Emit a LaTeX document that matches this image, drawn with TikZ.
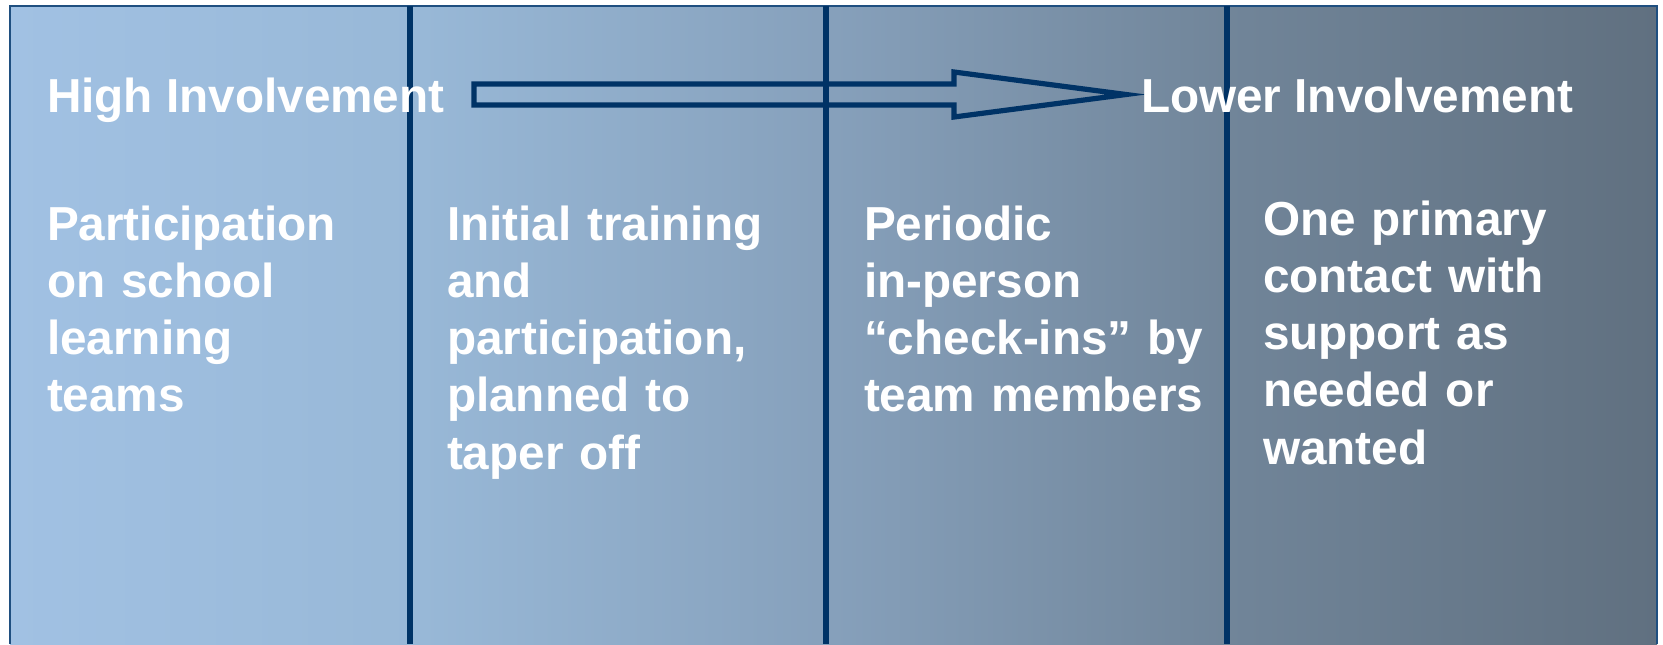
\documentclass[tikz,border=0pt]{standalone}
\usepackage{fontspec}
\setmainfont{Liberation Sans}
\definecolor{G1}{RGB}{161,193,227}
\definecolor{G2}{RGB}{152,184,215}
\definecolor{G3}{RGB}{134,160,187}
\definecolor{G4}{RGB}{112,132,152}
\definecolor{G5}{RGB}{96,112,128}
\pgfdeclarehorizontalshading{panel}{100bp}{color(0bp)=(G1); color(25bp)=(G1); color(37.5bp)=(G2); color(50bp)=(G3); color(62.5bp)=(G4); color(75bp)=(G5); color(100bp)=(G5)}
\begin{document}
\begin{tikzpicture}[x=0.5pt, y=-0.5pt, inner sep=0pt, outer sep=0pt,
  headtext/.style={anchor=base west, text=white, font=\bfseries\fontsize{23.85}{28.65}\selectfont},
  coltext/.style={headtext, text width=#1, align=left}]
\useasboundingbox (0,0) rectangle (1663,644);
\definecolor{L}{rgb}{0,0.2,0.4}
\definecolor{B}{rgb}{0.12,0.31,0.50}
% background panel
\path[shading=panel] (10,6) rectangle (1657,644);
\path[line width=1.3pt, draw=B] (10,644) |- (1657,6) -- (1657,644);
% column dividers
\path[line width=3.3pt, draw=L] (410,6) -- (410,644);
\path[line width=3.3pt, draw=L] (826,6) -- (826,644);
\path[line width=3.3pt, draw=L] (1227,6) -- (1227,644);
% arrow
\path[line width=2.6pt, draw=L] (474,84) -- (954,84) -- (954,72) -- (1126,94.5) -- (954,117) -- (954,105) -- (474,105) -- cycle;
% headings
\node[headtext] (high) at (47,112) {High Involvement};
\node[headtext] (low) at (1141,112) {Lower Involvement};
% column texts
\node[coltext=180pt] (c1) at (47,240) {Participation\\on school\\learning\\teams};
\node[coltext=180pt] (c2) at (447,240) {Initial training\\and\\participation,\\planned to\\taper off};
\node[coltext=175pt] (c3) at (864,240) {Periodic\\in-person\\“check-ins” by\\team members};
\node[coltext=190pt] (c4) at (1263,235) {One primary\\contact with\\support as\\needed or\\wanted};
\end{tikzpicture}
\end{document}
